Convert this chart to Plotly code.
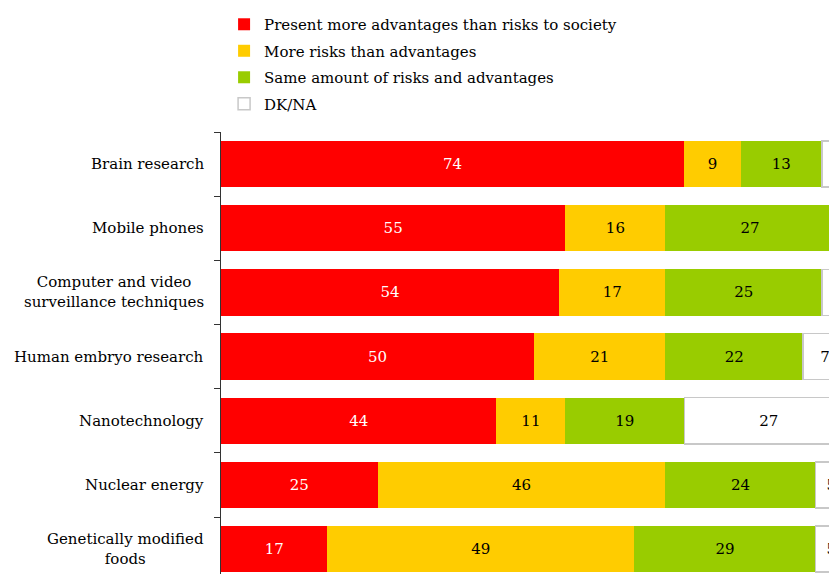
import plotly.graph_objects as go

categories = ["Brain research", "Mobile phones", "Computer and video<br>surveillance techniques",
              "Human embryo research", "Nanotechnology", "Nuclear energy",
              "Genetically modified<br>foods"]
series_names = ["Present more advantages than risks to society", "More risks than advantages",
                "Same amount of risks and advantages", "DK/NA"]
advantages = [74, 55, 54, 50, 44, 25, 17]
risks = [9, 16, 17, 21, 11, 46, 49]
same = [13, 27, 25, 22, 19, 24, 29]
dkna = [5, 2, 5, 7, 27, 5, 5]

colors = ["#FF0000", "#FFCC00", "#99CC00", "#FFFFFF"]
text_colors = ["#FFFFFF", "#000000", "#000000", "#000000"]
FONT = "DejaVu Serif"

fig = go.Figure()
for i, (name, vals, col, tcol) in enumerate(zip(series_names, [advantages, risks, same, dkna], colors, text_colors)):
    fig.add_trace(go.Bar(
        y=categories, x=vals, orientation="h", name=name, legendgroup=f"g{i}",
        marker=dict(color=col, line=dict(color="#C8C8C8" if col == "#FFFFFF" else col,
                                         width=1.5 if col == "#FFFFFF" else 0)),
        text=[str(v) for v in vals], textposition="inside", insidetextanchor="middle",
        textangle=0, constraintext="none",
        textfont=dict(family=FONT, size=15, color=tcol),
        width=0.72,
    ))

for c in categories:
    fig.add_annotation(x=0, xref="paper", y=c, yref="y", text=c, showarrow=False,
                       xanchor="right", align="center", xshift=-15,
                       font=dict(family=FONT, size=15, color="#000000"))

fig.update_layout(
    width=829, height=566,
    margin=dict(l=213, r=0, t=124, b=0),
    barmode="stack", bargap=0.28,
    plot_bgcolor="white", paper_bgcolor="white",
    font=dict(family=FONT, size=15, color="#000000"),
    showlegend=True,
    legend=dict(x=0.005, y=1.2805, xanchor="left", yanchor="top", traceorder="grouped",
                tracegroupgap=4,
                font=dict(family=FONT, size=15, color="#000000"), bgcolor="rgba(0,0,0,0)"),
    uniformtext=dict(mode=False),
)
fig.update_xaxes(range=[0, 98.4], visible=False, showgrid=False)
fig.update_yaxes(autorange=False, range=[6.388, -0.5], showticklabels=False,
                 tickson="boundaries", ticks="outside", ticklen=6, tickcolor="#333333",
                 showline=True, linecolor="#333333", linewidth=1, showgrid=False,
                 zeroline=False)

fig.write_html("out.html")
